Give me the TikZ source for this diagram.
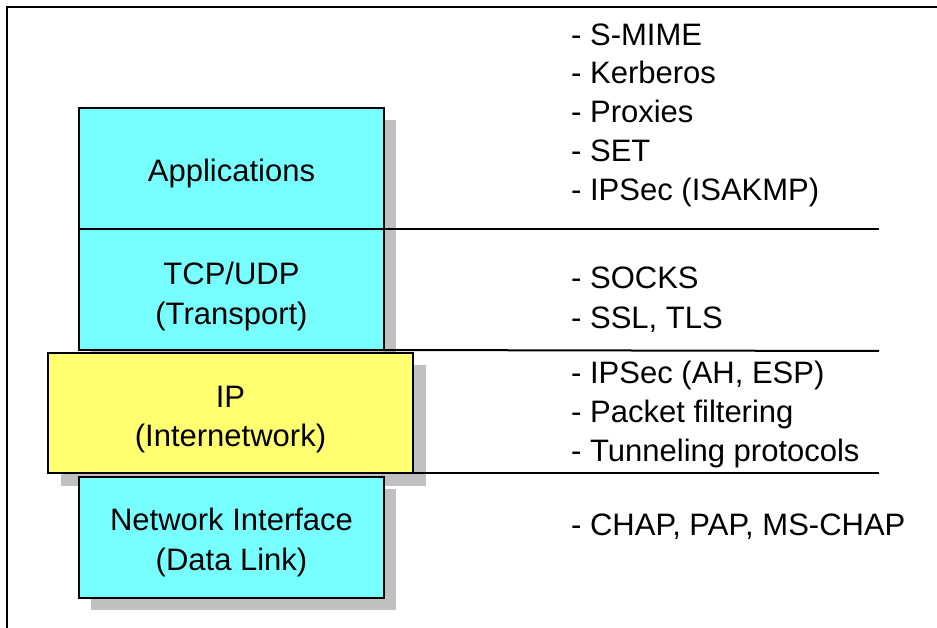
\documentclass[tikz,border=0pt]{standalone}
\usepackage{fontspec}
\setmainfont{Liberation Sans}
\definecolor{boxcyan}{RGB}{119,255,255}
\definecolor{boxyellow}{RGB}{255,255,112}
\definecolor{shadowgray}{RGB}{192,192,192}
\begin{document}
\begin{tikzpicture}[x=1pt,y=-1pt,
  layerbox/.style={draw=black, line width=2pt, inner sep=0pt, outer sep=0pt, anchor=north west},
  narrowbox/.style={layerbox, fill=boxcyan, minimum width=305pt, minimum height=121pt},
  widebox/.style={layerbox, fill=boxyellow, minimum width=365pt, minimum height=120pt},
  shade/.style={fill=shadowgray},
  lbl/.style={font=\fontsize{31}{37}\selectfont, inner sep=0pt, anchor=base},
  item/.style={font=\fontsize{31}{37}\selectfont, inner sep=0pt, anchor=base west},
  sepline/.style={draw=black, line width=2pt}]
\useasboundingbox (0,0) rectangle (937,628);
\draw[line width=2pt] (7,628) -- (7,7) -- (937,7);
% layers
\fill[shade] (91,120) rectangle (396,241);
\node[narrowbox] (appl) at (79,108) {};
\fill[shade] (91,241) rectangle (396,362);
\node[narrowbox] (tcp) at (79,229) {};
\fill[shade] (61,365) rectangle (426,486);
\node[widebox] (ip) at (48,353) {};
\fill[shade] (91,489) rectangle (396,610);
\node[narrowbox] (net) at (79,477) {};
% labels
\node[lbl] (tappl) at (231.5,182) {Applications};
\node[lbl] (ttcp1) at (231.5,285) {TCP/UDP};
\node[lbl] (ttcp2) at (231.5,324) {(Transport)};
\node[lbl] (tip1) at (230.5,407) {IP};
\node[lbl] (tip2) at (230.5,446) {(Internetwork)};
\node[lbl] (tnet1) at (231.5,530) {Network Interface};
\node[lbl] (tnet2) at (231.5,570) {(Data Link)};
% separator lines
\coordinate (e1) at (879,229);
\coordinate (e2) at (879,351);
\coordinate (e3) at (879,473);
\draw[sepline] (appl.south east) -- (e1);
\draw[sepline] (tcp.south east) -- (e2);
\draw[sepline] (ip.south east) -- (e3);
% right-hand items
\node[item] (i1) at (571,46) {- S-MIME};
\node[item] (i2) at (571,84) {- Kerberos};
\node[item] (i3) at (571,123) {- Proxies};
\node[item] (i4) at (571,162) {- SET};
\node[item] (i5) at (571,201) {- IPSec (ISAKMP)};
\node[item] (i6) at (571,289) {- SOCKS};
\node[item] (i7) at (571,329) {- SSL, TLS};
\node[item] (i8) at (571,383) {- IPSec (AH, ESP)};
\node[item] (i9) at (571,422) {- Packet filtering};
\node[item] (i10) at (571,461) {- Tunneling protocols};
\node[item] (i11) at (571,535) {- CHAP, PAP, MS-CHAP};
\end{tikzpicture}
\end{document}
